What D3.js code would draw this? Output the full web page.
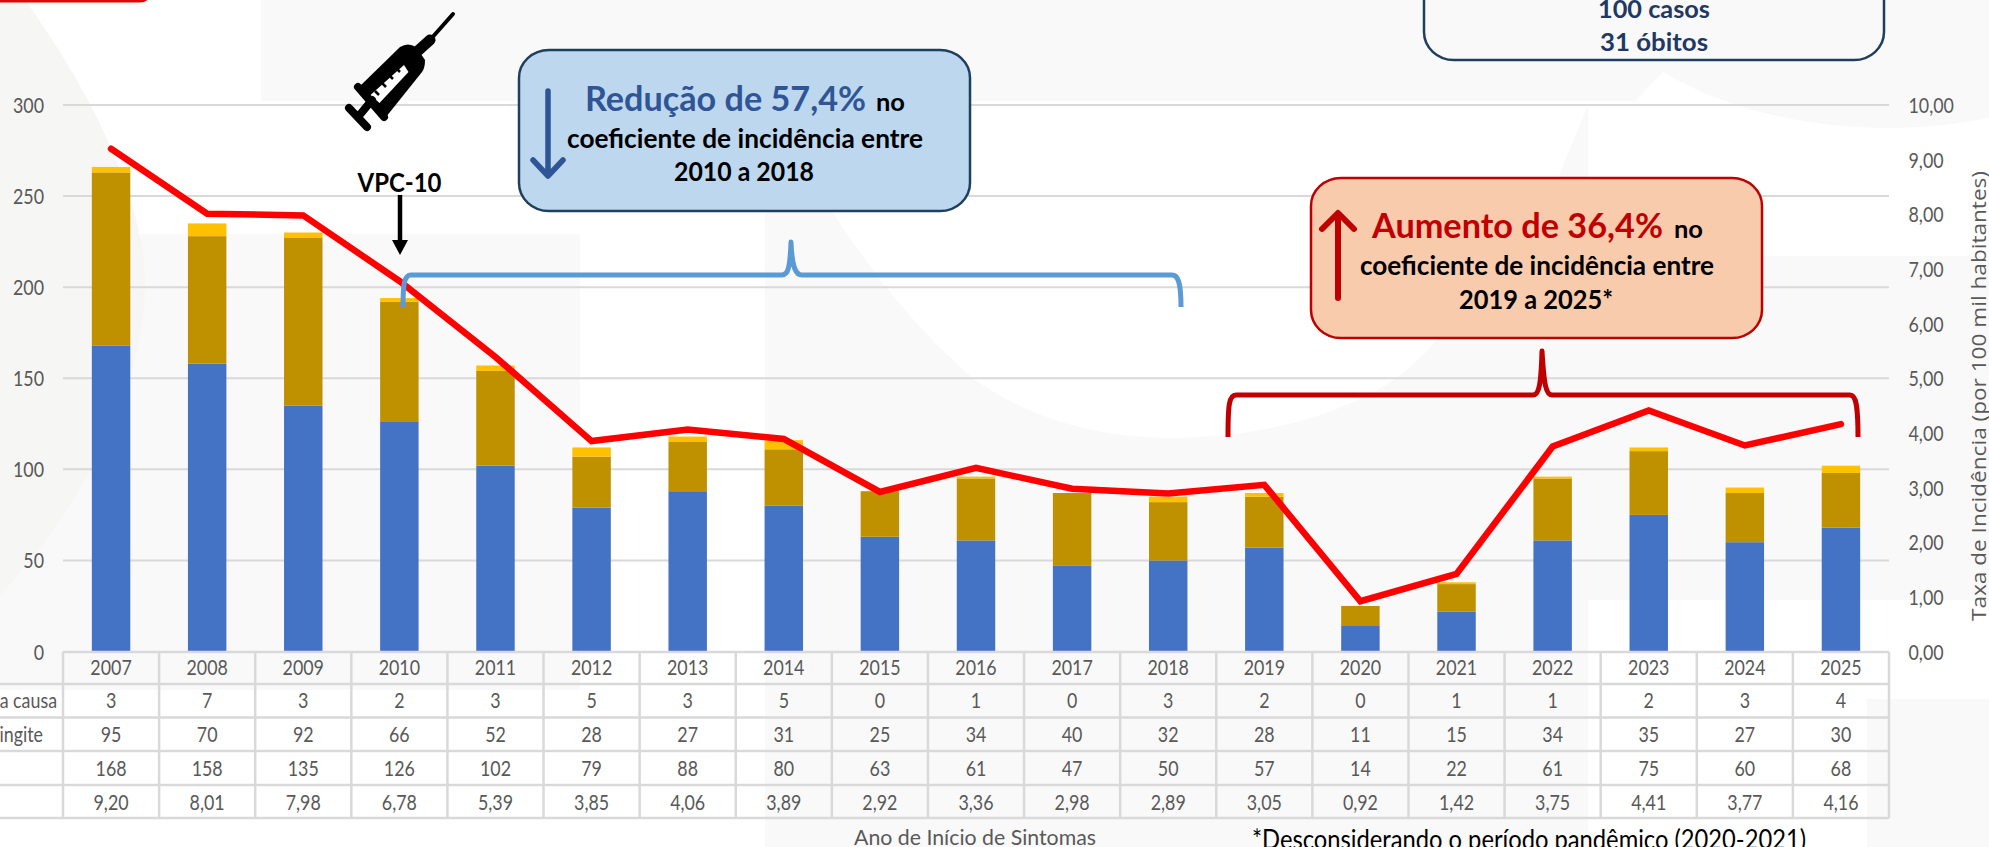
<!DOCTYPE html>
<html><head><meta charset="utf-8">
<script src="https://cdnjs.cloudflare.com/ajax/libs/d3/7.8.5/d3.min.js"></script>
<style>html,body{margin:0;padding:0;background:#fff;overflow:hidden}svg{display:block}text{font-family:Lato,"Noto Sans",sans-serif}</style>
</head><body><svg id="c" width="1989" height="847"></svg>
<script>
const years=[2007,2008,2009,2010,2011,2012,2013,2014,2015,2016,2017,2018,2019,2020,2021,2022,2023,2024,2025];
const outraCausa=[3,7,3,2,3,5,3,5,0,1,0,3,2,0,1,1,2,3,4];
const meningite=[95,70,92,66,52,28,27,31,25,34,40,32,28,11,15,34,35,27,30];
const pneumonia=[168,158,135,126,102,79,88,80,63,61,47,50,57,14,22,61,75,60,68];
const taxa=[9.20,8.01,7.98,6.78,5.39,3.85,4.06,3.89,2.92,3.36,2.98,2.89,3.05,0.92,1.42,3.75,4.41,3.77,4.16];
const leftTicks=[0,50,100,150,200,250,300];
const rightTicks=[0,1,2,3,4,5,6,7,8,9,10];
const rowLabels=["Outra causa","Meningite","",""];

const svg=d3.select("#c");
const GRAY="#595959", GRID="#d9d9d9";
const X0=63,X1=1889,Y0=651.5,Y300=105;
const x=d3.scaleBand().domain(years).range([X0,X1]).padding(0);
const yL=d3.scaleLinear().domain([0,300]).range([Y0,Y300]);
const yR=d3.scaleLinear().domain([0,10]).range([Y0,Y300]);
const cx=d=>x(d)+x.bandwidth()/2;
const comma=d3.format(".2f");
const pt=v=>comma(v).replace(".",",");

// faint watermark behind the chart
const bg=svg.append("g").attr("fill","#f9f9f9");
[[261,0,1327,101],[0,234,580,456],[1516,256,473,344],[1867,699,122,148]].forEach(r=>bg.append("rect").attr("x",r[0]).attr("y",r[1]).attr("width",r[2]).attr("height",r[3]));
bg.append("path").attr("d","M25,0 C90,90 145,200 145,283 C145,400 70,520 0,595 L0,0Z").attr("fill","#f6f6f5");
bg.append("path").attr("d","M765,101 H775 C800,170 880,300 975,380 C1040,425 1110,438 1170,438 C1250,438 1330,420 1389,383 C1420,362 1440,338 1460,310 L1558,178 L1588,105 V847 H765Z");
bg.append("path").attr("d","M1588,101 H1635 L1663,72 C1750,125 1880,140 1989,118 V0 H1588Z");

// top-left remnant
svg.append("path").attr("d","M0,0.5 H140 Q144,0.5 147,-2").attr("fill","none").attr("stroke","#dd0808").attr("stroke-width",4);

// grid
svg.append("g").selectAll("line").data(leftTicks.slice(1)).join("line")
 .attr("x1",X0).attr("x2",X1).attr("y1",yL).attr("y2",yL).attr("stroke",GRID).attr("stroke-width",2);

// axes
const SX=0.87, FS=20.5;
function styleAxis(g,dx,anchor){
  g.select(".domain").remove();
  g.selectAll(".tick line").remove();
  g.selectAll(".tick text").attr("x",0).attr("dy",null).attr("y",0).attr("text-anchor",anchor)
   .attr("fill",GRAY).attr("font-size",FS).attr("font-family","Lato")
   .attr("transform",`translate(${dx},7.5) scale(${SX},1)`);
}
svg.append("g").attr("transform",`translate(${X0},0)`)
 .call(d3.axisLeft(yL).tickValues(leftTicks).tickFormat(d3.format("d")))
 .call(g=>styleAxis(g,-19,"end"));
svg.append("g").attr("transform",`translate(${X1},0)`)
 .call(d3.axisRight(yR).tickValues(rightTicks).tickFormat(pt))
 .call(g=>styleAxis(g,19.5,"start"));

// stacked bars
const rows=years.map((y,i)=>({year:y,a:pneumonia[i],b:meningite[i],c:outraCausa[i]}));
const stack=d3.stack().keys(["a","b","c"])(rows);
const colors={a:"#4472c4",b:"#bf9000",c:"#ffc000"};
const bw=x.bandwidth()*0.4;
svg.append("g").selectAll("g").data(stack).join("g").attr("fill",d=>colors[d.key])
 .selectAll("rect").data(d=>d).join("rect")
 .attr("x",d=>cx(d.data.year)-bw/2).attr("width",bw)
 .attr("y",d=>yL(d[1])).attr("height",d=>yL(d[0])-yL(d[1]));

// line
svg.append("path").attr("fill","none").attr("stroke","#ff0000").attr("stroke-width",6.5)
 .attr("stroke-linejoin","miter").attr("stroke-linecap","round")
 .attr("d",d3.line().x((d,i)=>cx(years[i])).y(d=>yR(d))(taxa));

// data table
const rowYs=[652,684,717.5,751,785,818];
const tb=svg.append("g").attr("stroke",GRID).attr("stroke-width",2.5);
tb.selectAll("line.h").data(rowYs).join("line").attr("class","h")
 .attr("x1",(d,i)=>i===0?X0:0).attr("x2",X1).attr("y1",d=>d).attr("y2",d=>d);
tb.selectAll("line.v").data(d3.range(years.length+1)).join("line").attr("class","v")
 .attr("x1",i=>X0+i*x.bandwidth()).attr("x2",i=>X0+i*x.bandwidth()).attr("y1",rowYs[0]).attr("y2",rowYs[5]);
const tableRows=[years,outraCausa,meningite,pneumonia,taxa.map(pt)];
const rowMid=[667.5,700.5,734.5,768.5,802.5];
tableRows.forEach((r,ri)=>{
  svg.append("g").selectAll("text").data(r).join("text").text(d=>d)
   .attr("text-anchor","middle").attr("fill",GRAY).attr("font-size",FS)
   .attr("transform",(d,i)=>`translate(${cx(years[i])},${rowMid[ri]+7.5}) scale(${SX},1)`);
});
const labelEnds=[57,43];
rowLabels.forEach((t,i)=>{ if(!t) return;
  svg.append("text").text(t).attr("text-anchor","end").attr("fill",GRAY).attr("font-size",FS)
   .attr("transform",`translate(${labelEnds[i]},${rowMid[i+1]+7.5}) scale(${SX},1)`);
});

// generic fitted text
function fit(g,str,xx,y,len,size,fill,weight,anchor){
  return g.append("text").text(str).attr("x",xx).attr("y",y).attr("font-size",size).attr("fill",fill)
   .attr("font-weight",weight||400).attr("text-anchor",anchor||"start")
   .attr("textLength",len).attr("lengthAdjust","spacingAndGlyphs");
}
const ann=svg.append("g");
fit(ann,"Ano de Início de Sintomas",975,845,242,21,GRAY,400,"middle");
fit(ann,"*Desconsiderando o período pandêmico (2020-2021)",1252,849,554,27,"#000");
const rt=ann.append("g").attr("transform","translate(1986,396) rotate(-90)");
rt.append("text").text("Taxa de Incidência (por 100 mil habitantes)").attr("text-anchor","middle")
 .style("font-family","'Open Sans'").attr("font-size",20).attr("fill",GRAY).attr("textLength",450).attr("lengthAdjust","spacingAndGlyphs");

// rounded boxes
function box(x0,y0,x1,y1,fill,stroke,sw){
  ann.append("rect").attr("x",x0).attr("y",y0).attr("width",x1-x0).attr("height",y1-y0).attr("rx",30).attr("ry",28)
   .attr("fill",fill).attr("stroke",stroke).attr("stroke-width",sw);
}
box(1424,-60,1884,60,"none","#1f3f5f",2.5);
fit(ann,"100 casos",1654,18,112,25,"#1f3864",700,"middle");
fit(ann,"31 óbitos",1654,51,108,25,"#1f3864",700,"middle");

box(519,50,970,211,"#bdd7ee","#1f3f5f",2.5);
fit(ann,"Redução de 57,4%",585,110.5,281,35,"#2f5597",700);
fit(ann,"no",876,110.5,29,25,"#000",700);
fit(ann,"coeficiente de incidência entre",745,147.5,356,27,"#000",700,"middle");
fit(ann,"2010 a 2018",744,180.5,140,27,"#000",700,"middle");

box(1311,178,1762,338,"#f8cbad","#c00000",2.5);
fit(ann,"Aumento de 36,4%",1372,237.5,291,35,"#c00000",700);
fit(ann,"no",1674,237.5,29,25,"#000",700);
fit(ann,"coeficiente de incidência entre",1537,274.5,354,27,"#000",700,"middle");
fit(ann,"2019 a 2025*",1536,308.5,154,27,"#000",700,"middle");

// arrows
function line(d,c,w,cap){ann.append("path").attr("d",d).attr("fill","none").attr("stroke",c).attr("stroke-width",w).attr("stroke-linecap",cap||"round").attr("stroke-linejoin","round");}
line("M548,91 V175 M533,160 L548,176 L563,160","#2f5597",5.5);
line("M1338,298 V214 M1322,229 L1338,213 L1354,229","#c00000",6);
fit(ann,"VPC-10",399.5,192,84,27,"#000",700,"middle");
line("M400,195 V242","#000",4.5,"butt");
ann.append("path").attr("d","M392,240 H408 L400,255Z").attr("fill","#000");

// braces
line("M403,307 C403,285 404,275 411,275 H782 C788,275 790,268 791,242 C792,268 796,275 802,275 H1172 C1178,275 1181,282 1181,307","#5b9bd5",5,"butt");
line("M1228,437 C1228,405 1229,395 1236,395 H1533 C1539,395 1541,385 1542,351 C1544,385 1546,395 1552,395 H1850 C1856,395 1858,405 1858,437","#c00000",5,"butt");

// syringe icon
const s=ann.append("g");
s.append("path").attr("d","M400,47 Q408,42 416,47 L425,60 Q425,68 422,72 L386,117 L358,88Z").attr("fill","#000");
s.append("path").attr("d","M404,65 L408.5,72 L379.5,103 L370.5,95Z").attr("fill","#fff");
s.append("path").attr("d","M410,58 L430,40").attr("stroke","#000").attr("stroke-width",11).attr("stroke-linecap","round");
s.append("path").attr("d","M430,40 L453,14").attr("stroke","#000").attr("stroke-width",4).attr("stroke-linecap","round");
s.append("path").attr("d","M349,108 L367,127 M358,87 L384,117 M358,117 L372,100").attr("stroke","#000").attr("stroke-width",8).attr("stroke-linecap","round");
s.append("path").attr("d","M400,72 L396,68 M393,79 L389,75 M386,87 L382,83 M379,95 L375,91").attr("stroke","#000").attr("stroke-width",2.5);
</script></body></html>
